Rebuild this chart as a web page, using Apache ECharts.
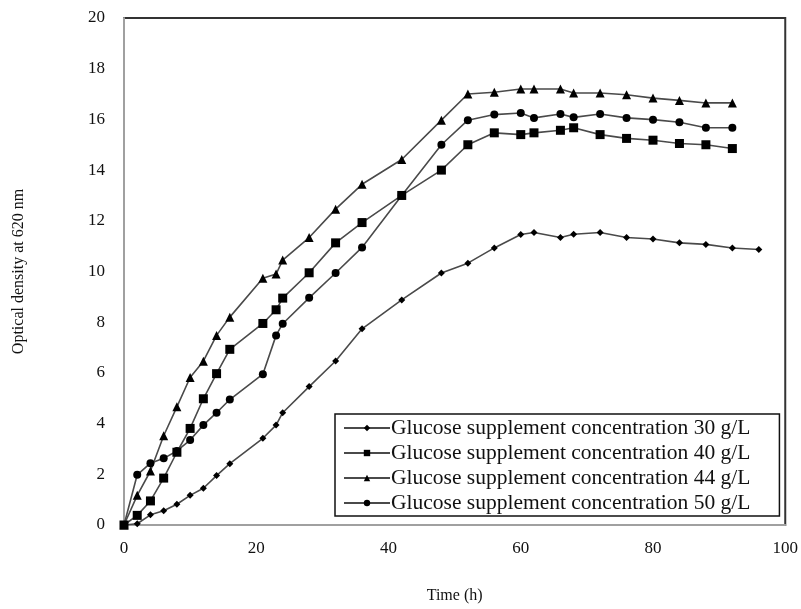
<!DOCTYPE html>
<html>
<head>
<meta charset="utf-8">
<script src="https://cdn.jsdelivr.net/npm/echarts@6/dist/echarts.min.js"></script>
<style>html,body{margin:0;padding:0;background:#fff}#c{width:801px;height:609px}</style>
</head>
<body>
<div id="c"></div>
<script>
const seriesNames = [
  'Glucose supplement concentration 30 g/L',
  'Glucose supplement concentration 40 g/L',
  'Glucose supplement concentration 44 g/L',
  'Glucose supplement concentration 50 g/L'
];
const time30 = [0,2,4,6,8,10,12,14,16,21,23,24,28,32,36,42,48,52,56,60,62,66,68,72,76,80,84,88,92,96];
const od30 = [0,0.05,0.4,0.56,0.82,1.17,1.45,1.95,2.42,3.42,3.94,4.43,5.46,6.47,7.74,8.88,9.94,10.33,10.93,11.46,11.54,11.34,11.47,11.54,11.34,11.28,11.13,11.07,10.93,10.87];
const timeOther = [0,2,4,6,8,10,12,14,16,21,23,24,28,32,36,42,48,52,56,60,62,66,68,72,76,80,84,88,92];
const od40 = [0,0.38,0.95,1.85,2.87,3.81,4.98,5.97,6.93,7.95,8.49,8.95,9.95,11.13,11.93,13.0,14.0,15.0,15.47,15.4,15.47,15.57,15.67,15.4,15.25,15.18,15.05,15.0,14.85];
const od44 = [0,1.17,2.13,3.52,4.66,5.82,6.46,7.48,8.2,9.73,9.9,10.45,11.34,12.46,13.44,14.42,15.97,17.0,17.07,17.2,17.2,17.2,17.04,17.04,16.97,16.84,16.75,16.65,16.65];
const od50 = [0,1.98,2.44,2.63,2.92,3.35,3.94,4.43,4.95,5.95,7.48,7.94,8.96,9.94,10.95,13.0,15.0,15.97,16.19,16.25,16.06,16.21,16.08,16.21,16.06,15.99,15.89,15.67,15.67];
const xTicks = [0,20,40,60,80,100];
const yTicks = [0,2,4,6,8,10,12,14,16,18,20];

const pair = (xs, ys) => xs.map((x, i) => [x, ys[i]]);
const symbols = ['diamond','rect','triangle','circle'];
const sizes = [7,9,9,8];
const datasets = [pair(time30, od30), pair(timeOther, od40), pair(timeOther, od44), pair(timeOther, od50)];

const font = 'Liberation Serif';
const chart = echarts.init(document.getElementById('c'), null, {renderer: 'canvas'});
chart.setOption({
  animation: false,
  backgroundColor: '#fff',
  grid: {left: 124, top: 18, right: 14, bottom: 82, show: true, borderColor: '#333', borderWidth: 2, backgroundColor: 'transparent'},
  xAxis: {
    type: 'value', min: 0, max: 100, interval: 20,
    name: 'Time (h)', nameLocation: 'middle', nameGap: 63,
    nameTextStyle: {fontFamily: font, fontSize: 16, color: '#111'},
    axisLine: {show: true, lineStyle: {color: '#a0a0a0', width: 2}},
    axisTick: {show: false},
    splitLine: {show: false},
    axisLabel: {fontFamily: font, fontSize: 17, color: '#111', margin: 15, formatter: v => xTicks.includes(v) ? String(v) : ''}
  },
  yAxis: {
    type: 'value', min: 0, max: 20, interval: 2,
    name: 'Optical density at 620 nm', nameLocation: 'middle', nameGap: 97, nameRotate: 90,
    nameTextStyle: {fontFamily: font, fontSize: 16, color: '#111'},
    axisLine: {show: true, lineStyle: {color: '#a0a0a0', width: 2}},
    axisTick: {show: false},
    splitLine: {show: false},
    axisLabel: {fontFamily: font, fontSize: 17, color: '#111', margin: 19, formatter: v => yTicks.includes(v) ? String(v) : ''}
  },
  legend: {
    orient: 'vertical', left: 335, top: 414,
    backgroundColor: '#fff', borderColor: '#111', borderWidth: 1.5,
    padding: [3, 29, 2, 8], itemGap: 3, itemWidth: 46, itemHeight: 8,
    textStyle: {fontFamily: font, fontSize: 21.5, color: '#111', padding: [0,0,0,-4]},
    data: seriesNames
  },
  series: datasets.map((d, i) => ({
    name: seriesNames[i], type: 'line', data: d,
    symbol: symbols[i], symbolSize: sizes[i], showAllSymbol: true,
    lineStyle: {color: '#4a4a4a', width: 1.6},
    itemStyle: {color: '#000'},
    z: 2
  }))
});
</script>
</body>
</html>
